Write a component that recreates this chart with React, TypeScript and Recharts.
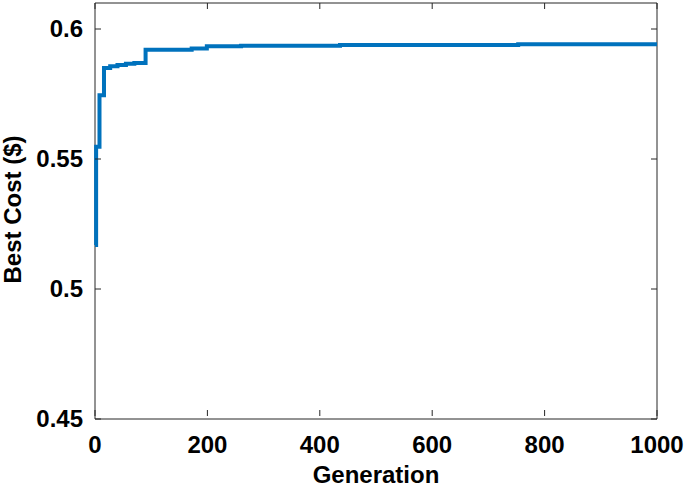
import { LineChart, Line, XAxis, YAxis, ReferenceArea } from 'recharts'

const generations = [0, 2, 8, 16, 27, 40, 55, 70, 90, 172, 199, 260, 436, 753, 1000]
const bestCost = [
  0.5169, 0.5547, 0.5745, 0.585, 0.5857, 0.5862, 0.5866, 0.5869, 0.592, 0.5925, 0.5934,
  0.5936, 0.5938, 0.5941, 0.5941,
]
const xTicks = [0, 200, 400, 600, 800, 1000]
const yTicks = [0.45, 0.5, 0.55, 0.6]

const data = generations.map((g, i) => ({ gen: g, cost: bestCost[i] }))

const W = 685
const H = 489
const PLOT_LEFT = 95
const PLOT_RIGHT = 657
const PLOT_TOP = 3
const PLOT_BOTTOM = 416
const TICK_LEN = 6
const AXIS_COLOR = '#262626'
const FONT = '"Liberation Sans", Arial, sans-serif'

function XTick(props: any) {
  const { x, payload } = props
  return (
    <g>
      <line x1={x} x2={x} y1={PLOT_BOTTOM} y2={PLOT_BOTTOM - TICK_LEN} stroke={AXIS_COLOR} />
      <line x1={x} x2={x} y1={PLOT_TOP} y2={PLOT_TOP + TICK_LEN} stroke={AXIS_COLOR} />
      <text
        x={x}
        y={PLOT_BOTTOM + 37}
        textAnchor="middle"
        fontFamily={FONT}
        fontWeight="bold"
        fontSize={24}
        fill="#000"
      >
        {payload.value}
      </text>
    </g>
  )
}

function YTick(props: any) {
  const { y, payload } = props
  return (
    <g>
      <line x1={PLOT_LEFT} x2={PLOT_LEFT + TICK_LEN} y1={y} y2={y} stroke={AXIS_COLOR} />
      <line x1={PLOT_RIGHT} x2={PLOT_RIGHT - TICK_LEN} y1={y} y2={y} stroke={AXIS_COLOR} />
      <text
        x={PLOT_LEFT - 12}
        y={y + 8}
        textAnchor="end"
        fontFamily={FONT}
        fontWeight="bold"
        fontSize={24}
        fill="#000"
      >
        {String(payload.value)}
      </text>
    </g>
  )
}

export default function App() {
  return (
    <div style={{ position: 'absolute', left: 0, top: 0, width: W, height: H, background: '#fff' }}>
      <LineChart
        width={W}
        height={H}
        data={data}
        margin={{ top: PLOT_TOP, right: W - PLOT_RIGHT, left: 0, bottom: 0 }}
      >
        <XAxis
          dataKey="gen"
          type="number"
          domain={[0, 1000]}
          ticks={xTicks}
          height={H - PLOT_BOTTOM - PLOT_TOP}
          axisLine={false}
          tickLine={false}
          tick={XTick}
          interval={0}
          label={{
            content: () => (
              <text
                x={(PLOT_LEFT + PLOT_RIGHT) / 2}
                y={483}
                textAnchor="middle"
                fontFamily={FONT}
                fontWeight="bold"
                fontSize={24}
                fill="#000"
              >
                Generation
              </text>
            ),
          }}
        />
        <YAxis
          type="number"
          domain={[0.45, 0.61]}
          ticks={yTicks}
          width={PLOT_LEFT}
          axisLine={false}
          tickLine={false}
          tick={YTick}
          interval={0}
          label={{
            content: () => (
              <text
                transform={`translate(21, ${(PLOT_TOP + PLOT_BOTTOM) / 2}) rotate(-90)`}
                textAnchor="middle"
                fontFamily={FONT}
                fontWeight="bold"
                fontSize={24}
                fill="#000"
              >
                Best Cost ($)
              </text>
            ),
          }}
        />
        <ReferenceArea
          x1={0}
          x2={1000}
          y1={0.45}
          y2={0.61}
          fill="none"
          stroke={AXIS_COLOR}
          strokeWidth={1}
        />
        <Line
          type="stepAfter"
          dataKey="cost"
          stroke="#0072BD"
          strokeWidth={4}
          dot={false}
          activeDot={false}
          isAnimationActive={false}
        />
      </LineChart>
    </div>
  )
}
